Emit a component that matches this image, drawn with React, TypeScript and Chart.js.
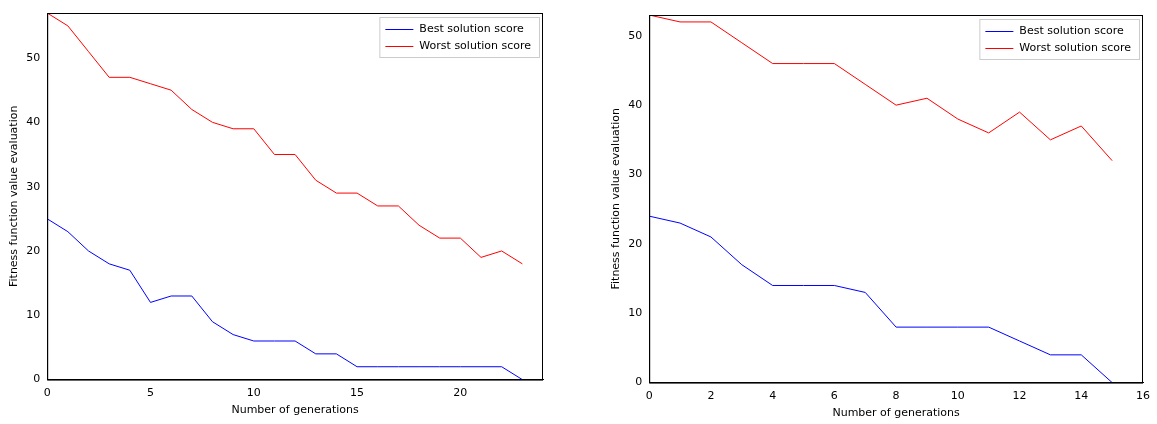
import Chart from 'chart.js/auto';
import { useEffect, useRef } from 'react';

const leftBest = [25, 23, 20, 18, 17, 12, 13, 13, 9, 7, 6, 6, 6, 4, 4, 2, 2, 2, 2, 2, 2, 2, 2, 0];
const leftWorst = [57, 55, 51, 47, 47, 46, 45, 42, 40, 39, 39, 35, 35, 31, 29, 29, 27, 27, 24, 22, 22, 19, 20, 18];
const rightBest = [24, 23, 21, 17, 14, 14, 14, 13, 8, 8, 8, 8, 6, 4, 4, 0];
const rightWorst = [53, 52, 52, 49, 46, 46, 46, 43, 40, 41, 38, 36, 39, 35, 37, 32];

interface PlotProps {
    best: number[];
    worst: number[];
    xMax: number;
    xStep: number;
    yMax: number;
    padding: { left: number; right: number; top: number; bottom: number };
}

// frame around the plot area plus a matplotlib-like legend box in the top right
const framePlugin = {
    id: 'frame',
    afterDraw(chart: Chart) {
        const { ctx, chartArea: a } = chart;
        ctx.save();
        ctx.strokeStyle = '#000';
        ctx.lineWidth = 1;
        ctx.strokeRect(a.left + 0.5, a.top + 0.5, a.right - a.left - 1, a.bottom - a.top);

        ctx.font = '11px "DejaVu Sans"';
        const items = chart.data.datasets.map(d => ({ text: d.label as string, color: d.borderColor as string }));
        const w = Math.max(...items.map(i => ctx.measureText(i.text).width)) + 48;
        const h = items.length * 17 + 6;
        const x = a.right - w - 4;
        const y = a.top + 4;
        ctx.fillStyle = 'rgba(255,255,255,0.8)';
        ctx.strokeStyle = '#ccc';
        ctx.fillRect(x, y, w, h);
        ctx.strokeRect(x + 0.5, y + 0.5, w, h);
        items.forEach((it, i) => {
            const cy = y + 12 + i * 17;
            ctx.strokeStyle = it.color;
            ctx.beginPath();
            ctx.moveTo(x + 6, cy + 0.5);
            ctx.lineTo(x + 34, cy + 0.5);
            ctx.stroke();
            ctx.fillStyle = '#000';
            ctx.textBaseline = 'middle';
            ctx.fillText(it.text, x + 40, cy);
        });
        ctx.restore();
    },
};

function Plot({ best, worst, xMax, xStep, yMax, padding }: PlotProps) {
    const canvasRef = useRef<HTMLCanvasElement>(null);
    useEffect(() => {
        if (canvasRef.current === null) return;
        const font = { family: 'DejaVu Sans', size: 11 };
        const toPts = (arr: number[]) => arr.map((y, x) => ({ x, y }));
        const chart = new Chart(canvasRef.current, {
            type: 'line',
            data: {
                datasets: [
                    { label: 'Best solution score', data: toPts(best), borderColor: 'blue', backgroundColor: 'blue', borderWidth: 1, pointRadius: 0 },
                    { label: 'Worst solution score', data: toPts(worst), borderColor: 'red', backgroundColor: 'red', borderWidth: 1, pointRadius: 0 },
                ],
            },
            options: {
                animation: false,
                responsive: false,
                layout: { padding },
                plugins: {
                    tooltip: { enabled: false },
                    legend: { display: false },
                },
                scales: {
                    x: {
                        type: 'linear', min: 0, max: xMax,
                        afterBuildTicks: (s: any) => { s.ticks = s.ticks.filter((t: any) => t.value % xStep === 0); },
                        ticks: { stepSize: xStep, color: '#000', font },
                        grid: { display: false, tickLength: 4 },
                        border: { color: '#000' },
                        title: { display: true, text: 'Number of generations', color: '#000', font, padding: 1 },
                    },
                    y: {
                        min: 0, max: yMax,
                        afterBuildTicks: (s: any) => { s.ticks = s.ticks.filter((t: any) => t.value % 10 === 0); },
                        ticks: { stepSize: 10, color: '#000', font },
                        grid: { display: false, tickLength: 4 },
                        border: { color: '#000' },
                        title: { display: true, text: 'Fitness function value evaluation', color: '#000', font, padding: 2 },
                    },
                },
            },
            plugins: [framePlugin],
        });
        return () => {
            chart.destroy();
        };
    }, [best, worst, xMax, xStep, yMax, padding]);
    return <canvas ref={canvasRef} width={578} height={424}></canvas>;
}

const leftPad = { left: 6, right: 35, top: 13, bottom: 6 };
const rightPad = { left: 30, right: 13, top: 15, bottom: 3 };

export default function App() {
    return (
        <div style={{ position: 'absolute', left: 0, top: 0, width: 1157, height: 424, background: '#fff' }}>
            <div style={{ position: 'absolute', left: 0, top: 0 }}>
                <Plot best={leftBest} worst={leftWorst} xMax={24} xStep={5} yMax={57} padding={leftPad} />
            </div>
            <div style={{ position: 'absolute', left: 578, top: 0 }}>
                <Plot best={rightBest} worst={rightWorst} xMax={16} xStep={2} yMax={53} padding={rightPad} />
            </div>
        </div>
    );
}
